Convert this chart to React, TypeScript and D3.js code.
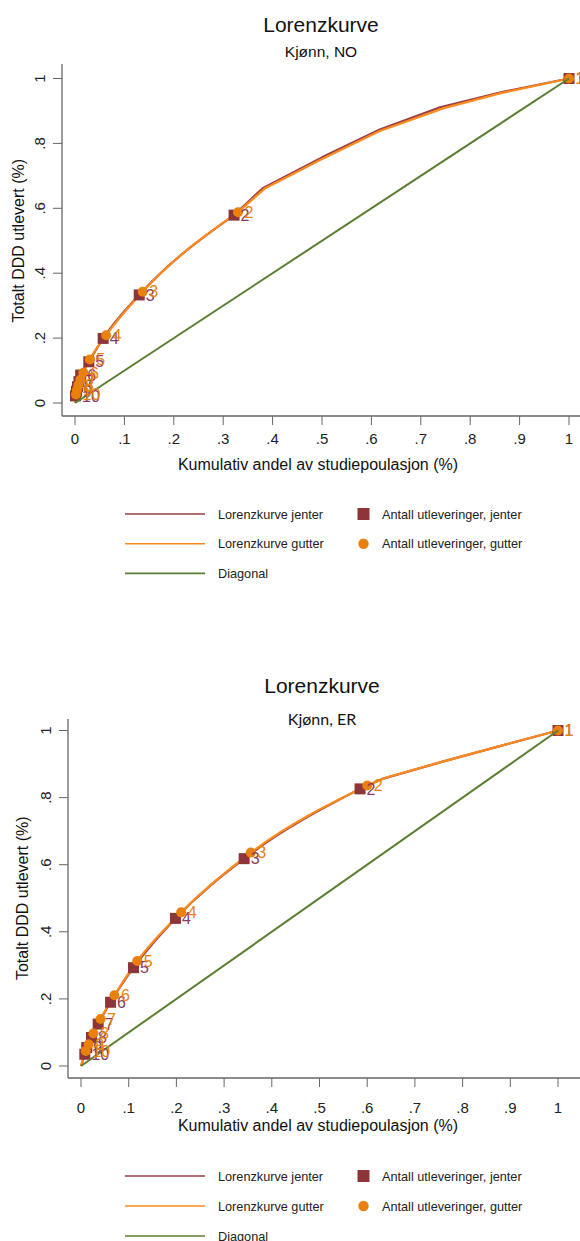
import React from 'react';
import * as d3 from 'd3';

// ---------- shared tick labels ----------
const xTicks = [0, 0.1, 0.2, 0.3, 0.4, 0.5, 0.6, 0.7, 0.8, 0.9, 1];
const xTickLabels = ['0', '.1', '.2', '.3', '.4', '.5', '.6', '.7', '.8', '.9', '1'];
const yTicks = [0, 0.2, 0.4, 0.6, 0.8, 1];
const yTickLabels = ['0', '.2', '.4', '.6', '.8', '1'];
const pointLabels = ['1', '2', '3', '4', '5', '6', '7', '8', '9', '10'];

// ---------- chart 1: Kjønn, NO ----------
const noGirlsX = [1, 0.322, 0.130, 0.057, 0.028, 0.0115, 0.008, 0.005, 0.003, 0.001];
const noGirlsY = [1, 0.579, 0.333, 0.199, 0.127, 0.086, 0.066, 0.050, 0.036, 0.022];
const noBoysX = [1, 0.330, 0.137, 0.063, 0.030, 0.017, 0.011, 0.007, 0.004, 0.002];
const noBoysY = [1, 0.588, 0.343, 0.209, 0.134, 0.093, 0.072, 0.055, 0.040, 0.026];
// Lorenz curve points between group 2 and group 1 (no marker)
const noGirlsExtraX = [0.38, 0.5, 0.617, 0.739, 0.86];
const noGirlsExtraY = [0.662, 0.757, 0.843, 0.911, 0.957];
const noBoysExtraX = [0.385, 0.5, 0.617, 0.745, 0.86];
const noBoysExtraY = [0.662, 0.752, 0.838, 0.908, 0.954];

// ---------- chart 2: Kjønn, ER ----------
const erGirlsX = [1, 0.585, 0.342, 0.198, 0.110, 0.062, 0.036, 0.022, 0.012, 0.008];
const erGirlsY = [1, 0.826, 0.618, 0.440, 0.293, 0.190, 0.125, 0.085, 0.055, 0.035];
const erBoysX = [1, 0.600, 0.356, 0.210, 0.118, 0.070, 0.041, 0.026, 0.016, 0.010];
const erBoysY = [1, 0.836, 0.636, 0.458, 0.313, 0.211, 0.140, 0.097, 0.065, 0.045];
const erGirlsExtraX = [0.63, 0.76, 0.88];
const erGirlsExtraY = [0.855, 0.908, 0.954];
const erBoysExtraX = [0.64, 0.76, 0.88];
const erBoysExtraY = [0.860, 0.908, 0.954];

const legendLines = ['Lorenzkurve jenter', 'Lorenzkurve gutter', 'Diagonal'];
const legendMarkers = ['Antall utleveringer, jenter', 'Antall utleveringer, gutter'];

const COL_GIRLS_LINE = '#9a3f48';
const COL_GIRLS_MARK = '#8e3539';
const COL_GIRLS_LABEL = '#8a3a5e';
const COL_BOYS_LINE = '#ff8a1c';
const COL_BOYS_MARK = '#e8820c';
const COL_DIAG = '#5a7f30';
const COL_AXIS = '#666';

type Layout = {
  title: string; subtitle: string; subtitleFont: string; subtitleSize: number;
  titleX: number; titleY: number; subtitleY: number;
  axisX: number; axisTop: number; axisBottomY: number; axisRight: number;
  x0: number; x1: number; y0: number; y1: number;
  yTitleX: number; xTitleX: number; xTitleY: number; xLabelY: number;
  legendY: number; legendGap: number;
};

function curvePoints(mx: number[], my: number[]) {
  const pts: [number, number][] = [[0, 0]];
  mx.forEach((x, i) => { if (i > 0) pts.push([x, my[i]]); });
  pts.sort((a, b) => a[0] - b[0]);
  return pts;
}
function upperPoints(mx: number[], my: number[], ex: number[], ey: number[]) {
  const pts: [number, number][] = [[mx[1], my[1]]];
  ex.forEach((x, i) => pts.push([x, ey[i]]));
  pts.push([mx[0], my[0]]);
  return pts;
}

function Chart({ L, gx, gy, bx, by, gex, gey, bex, bey }: any) {
  const lay = L as Layout;
  const x = d3.scaleLinear().domain([0, 1]).range([lay.x0, lay.x1]);
  const y = d3.scaleLinear().domain([0, 1]).range([lay.y0, lay.y1]);
  const smooth = d3.line<[number, number]>().x(d => x(d[0])).y(d => y(d[1])).curve(d3.curveMonotoneX);
  const straight = d3.line<[number, number]>().x(d => x(d[0])).y(d => y(d[1]));
  const gLow = curvePoints(gx, gy);
  const bLow = curvePoints(bx, by);
  const gUp = upperPoints(gx, gy, gex, gey);
  const bUp = upperPoints(bx, by, bex, bey);
  const diag: [number, number][] = [[0, 0], [1, 1]];
  const font = 'Liberation Sans, Arial, sans-serif';
  const midY = (lay.y0 + lay.y1) / 2;
  return (
    <g>
      <text x={lay.titleX} y={lay.titleY} textAnchor="middle" fontFamily={font} fontSize={21} fill="#111">{lay.title}</text>
      <text x={lay.titleX} y={lay.subtitleY} textAnchor="middle" fontFamily={lay.subtitleFont} fontSize={lay.subtitleSize} fill="#111">{lay.subtitle}</text>
      {/* axes */}
      <line x1={lay.axisX} x2={lay.axisX} y1={lay.axisTop} y2={lay.axisBottomY} stroke={COL_AXIS} strokeWidth={1.3} />
      <line x1={lay.axisX} x2={lay.axisRight} y1={lay.axisBottomY} y2={lay.axisBottomY} stroke={COL_AXIS} strokeWidth={1.3} />
      {yTicks.map((t, i) => (
        <g key={'y' + i}>
          <line x1={lay.axisX - 9} x2={lay.axisX} y1={y(t)} y2={y(t)} stroke={COL_AXIS} strokeWidth={1} />
          <text transform={`translate(${lay.axisX - 17.5},${y(t)}) rotate(-90)`} textAnchor="middle" fontFamily={font} fontSize={15} fill="#222">{yTickLabels[i]}</text>
        </g>
      ))}
      {xTicks.map((t, i) => (
        <g key={'x' + i}>
          <line x1={x(t)} x2={x(t)} y1={lay.axisBottomY} y2={lay.axisBottomY + 9} stroke={COL_AXIS} strokeWidth={1} />
          <text x={x(t)} y={lay.xLabelY} textAnchor="middle" fontFamily={font} fontSize={15} fill="#222">{xTickLabels[i]}</text>
        </g>
      ))}
      <text transform={`translate(${lay.yTitleX},${midY}) rotate(-90)`} textAnchor="middle" fontFamily={font} fontSize={16} fill="#111">Totalt DDD utlevert (%)</text>
      <text x={lay.xTitleX} y={lay.xTitleY} textAnchor="middle" fontFamily={font} fontSize={16} fill="#111">Kumulativ andel av studiepoulasjon (%)</text>
      {/* curves */}
      <path d={smooth(gLow) || ''} fill="none" stroke={COL_GIRLS_LINE} strokeWidth={2.2} />
      <path d={straight(gUp) || ''} fill="none" stroke={COL_GIRLS_LINE} strokeWidth={2.2} strokeLinejoin="round" />
      <path d={smooth(bLow) || ''} fill="none" stroke={COL_BOYS_LINE} strokeWidth={2.2} />
      <path d={straight(bUp) || ''} fill="none" stroke={COL_BOYS_LINE} strokeWidth={2.2} strokeLinejoin="round" />
      {/* markers */}
      {gx.map((v: number, i: number) => (
        <rect key={'gs' + i} x={x(v) - 5.5} y={y(gy[i]) - 5.5} width={11} height={11} fill={COL_GIRLS_MARK} />
      ))}
      {bx.map((v: number, i: number) => (
        <circle key={'bc' + i} cx={x(v)} cy={y(by[i])} r={5} fill={COL_BOYS_MARK} />
      ))}
      <path d={straight(diag) || ''} fill="none" stroke={COL_DIAG} strokeWidth={2} />
      {/* labels */}
      {gx.map((v: number, i: number) => (
        <text key={'gl' + i} x={x(v) + 6.5} y={y(gy[i]) + 5.7} fontFamily={font} fontSize={16} fill={COL_GIRLS_LABEL}>{pointLabels[i]}</text>
      ))}
      {bx.map((v: number, i: number) => (
        <text key={'bl' + i} x={x(v) + 6.5} y={y(by[i]) + 5.7} fontFamily={font} fontSize={16} fill={COL_BOYS_MARK}>{pointLabels[i]}</text>
      ))}
      {/* legend */}
      {legendLines.map((s, i) => {
        const ly = lay.legendY + i * lay.legendGap;
        const c = [COL_GIRLS_LINE, COL_BOYS_LINE, COL_DIAG][i];
        return (
          <g key={'ll' + i}>
            <line x1={125} x2={205} y1={ly} y2={ly} stroke={c} strokeWidth={1.6} />
            <text x={218} y={ly + 4.5} fontFamily={font} fontSize={12.7} fill="#222">{s}</text>
          </g>
        );
      })}
      {legendMarkers.map((s, i) => {
        const ly = lay.legendY + i * lay.legendGap;
        return (
          <g key={'lm' + i}>
            {i === 0
              ? <rect x={357.5} y={ly - 6} width={12} height={12} fill={COL_GIRLS_MARK} />
              : <circle cx={363.5} cy={ly} r={5.2} fill={COL_BOYS_MARK} />}
            <text x={382} y={ly + 4.5} fontFamily={font} fontSize={12.7} fill="#222">{s}</text>
          </g>
        );
      })}
    </g>
  );
}

const layoutNO: Layout = {
  title: 'Lorenzkurve', subtitle: 'Kjønn, NO', subtitleFont: 'Liberation Sans, Arial, sans-serif', subtitleSize: 15.5,
  titleX: 321, titleY: 32, subtitleY: 57,
  axisX: 62, axisTop: 64, axisBottomY: 416, axisRight: 580,
  x0: 75, x1: 569, y0: 403, y1: 78.5,
  yTitleX: 24, xTitleX: 318, xTitleY: 470, xLabelY: 444,
  legendY: 514, legendGap: 29.7,
};

const layoutER: Layout = {
  title: 'Lorenzkurve', subtitle: 'Kjønn, ER', subtitleFont: 'Lato, Carlito, sans-serif', subtitleSize: 16,
  titleX: 322, titleY: 693, subtitleY: 725,
  axisX: 68, axisTop: 719, axisBottomY: 1078, axisRight: 580,
  x0: 81, x1: 558, y0: 1066, y1: 730.5,
  yTitleX: 28, xTitleX: 318, xTitleY: 1131, xLabelY: 1113,
  legendY: 1176, legendGap: 30,
};

export default function App() {
  return (
    <svg width={580} height={1241} style={{ position: 'absolute', left: 0, top: 0, background: '#fff' }}>
      <rect width={580} height={1241} fill="#fff" />
      <Chart L={layoutNO} gx={noGirlsX} gy={noGirlsY} bx={noBoysX} by={noBoysY}
        gex={noGirlsExtraX} gey={noGirlsExtraY} bex={noBoysExtraX} bey={noBoysExtraY} />
      <Chart L={layoutER} gx={erGirlsX} gy={erGirlsY} bx={erBoysX} by={erBoysY}
        gex={erGirlsExtraX} gey={erGirlsExtraY} bex={erBoysExtraX} bey={erBoysExtraY} />
    </svg>
  );
}
